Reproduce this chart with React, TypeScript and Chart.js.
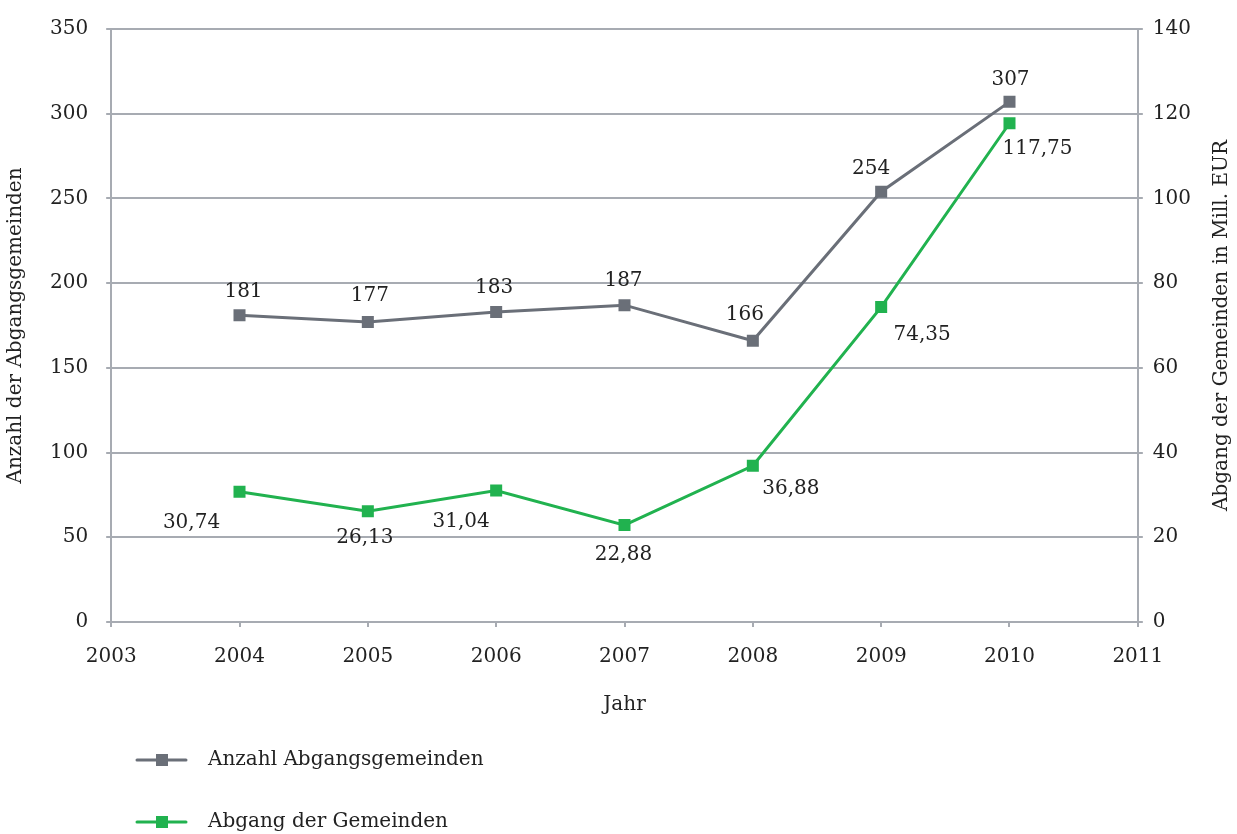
import React, { useEffect, useRef } from "react";
import { Chart, registerables } from "chart.js";

Chart.register(...registerables);

const years = [2004, 2005, 2006, 2007, 2008, 2009, 2010];
const anzahl = [181, 177, 183, 187, 166, 254, 307];
const abgang = [30.74, 26.13, 31.04, 22.88, 36.88, 74.35, 117.75];
const xTicks = [2003, 2004, 2005, 2006, 2007, 2008, 2009, 2010, 2011];
const leftTicks = [0, 50, 100, 150, 200, 250, 300, 350];
const rightTicks = [0, 20, 40, 60, 80, 100, 120, 140];

const GRAY = "#6a6f78";
const GREEN = "#21b24f";
const GRID = "#a7abb2";
const TEXT = "#222222";
const FONT = "'DejaVu Serif', serif";

// label offsets (px) relative to each point
const grayLabelOffsets = [
  [4, -24], [2, -26], [-2, -24], [-1, -24], [-8, -26], [-10, -23], [1, -22],
];
const greenLabelOffsets = [
  [-48, 31], [-3, 26], [-35, 31], [-1, 30], [38, 23], [41, 28], [28, 26],
];

const fmt = (v: number, decimals: boolean) =>
  decimals ? v.toFixed(2).replace(".", ",") : String(v);

const labelPlugin = {
  id: "pointLabels",
  afterDatasetsDraw(chart: any) {
    const ctx = chart.ctx;
    ctx.save();
    ctx.font = `20px ${FONT}`;
    ctx.fillStyle = TEXT;
    ctx.textAlign = "center";
    ctx.textBaseline = "middle";
    chart.data.datasets.forEach((ds: any, di: number) => {
      const meta = chart.getDatasetMeta(di);
      const offs = di === 0 ? grayLabelOffsets : greenLabelOffsets;
      meta.data.forEach((pt: any, i: number) => {
        const v = ds.data[i].y;
        ctx.fillText(fmt(v, di === 1), pt.x + offs[i][0], pt.y + offs[i][1]);
      });
    });
    ctx.restore();
  },
};

const rightTitlePlugin = {
  id: "rightTitle",
  afterDraw(chart: any) {
    const ctx = chart.ctx;
    const area = chart.chartArea;
    ctx.save();
    ctx.translate(1222, (area.top + area.bottom) / 2);
    ctx.rotate(-Math.PI / 2);
    ctx.font = `20px ${FONT}`;
    ctx.fillStyle = TEXT;
    ctx.textAlign = "center";
    ctx.textBaseline = "middle";
    ctx.fillText("Abgang der Gemeinden in Mill. EUR", 0, 0);
    ctx.restore();
  },
};

const legendPlugin = {
  id: "customLegend",
  afterDraw(chart: any) {
    const ctx = chart.ctx;
    const items = [
      { label: "Anzahl Abgangsgemeinden", color: GRAY, y: 760 },
      { label: "Abgang der Gemeinden", color: GREEN, y: 822 },
    ];
    ctx.save();
    items.forEach((it) => {
      ctx.strokeStyle = it.color;
      ctx.lineWidth = 3;
      ctx.lineCap = "round";
      ctx.beginPath();
      ctx.moveTo(137, it.y);
      ctx.lineTo(186, it.y);
      ctx.stroke();
      ctx.fillStyle = it.color;
      ctx.fillRect(156, it.y - 6, 12, 12);
      ctx.fillStyle = TEXT;
      ctx.font = `20px ${FONT}`;
      ctx.textAlign = "left";
      ctx.textBaseline = "middle";
      ctx.fillText(it.label, 208, it.y);
    });
    ctx.restore();
  },
};

export default function App() {
  const ref = useRef<HTMLCanvasElement>(null);
  useEffect(() => {
    document.body.style.margin = "0";
    const tickFont = { family: FONT, size: 20, lineHeight: 1.1 };
    const chart = new Chart(ref.current!, {
      type: "line",
      data: {
        datasets: [
          {
            label: "Anzahl Abgangsgemeinden",
            data: years.map((y, i) => ({ x: y, y: anzahl[i] })),
            borderColor: GRAY,
            backgroundColor: GRAY,
            borderWidth: 3,
            pointStyle: "rect",
            pointRadius: 8.5,
            pointBorderWidth: 0,
            yAxisID: "y",
          },
          {
            label: "Abgang der Gemeinden",
            data: years.map((y, i) => ({ x: y, y: abgang[i] })),
            borderColor: GREEN,
            backgroundColor: GREEN,
            borderWidth: 3,
            pointStyle: "rect",
            pointRadius: 8.5,
            pointBorderWidth: 0,
            yAxisID: "y1",
          },
        ],
      },
      options: {
        animation: false,
        responsive: false,
        layout: { padding: { top: 8, bottom: 113, left: 4, right: 36 } },
        plugins: {
          legend: { display: false },
          tooltip: { enabled: false },
        },
        scales: {
          x: {
            type: "linear",
            min: 2003,
            max: 2011,
            afterBuildTicks: (s: any) => {
              s.ticks = xTicks.map((v) => ({ value: v }));
            },
            ticks: { font: tickFont, color: TEXT, callback: (v: any) => String(v), padding: 19 },
            grid: { drawOnChartArea: false, color: GRID, tickLength: 5, lineWidth: 2 },
            border: { color: GRID, width: 2 },
            title: { display: true, text: "Jahr", font: { family: FONT, size: 20 }, color: TEXT, padding: { top: 6 } },
          },
          y: {
            position: "left",
            min: 0,
            max: 350,
            afterBuildTicks: (s: any) => {
              s.ticks = leftTicks.map((v) => ({ value: v }));
            },
            ticks: { font: tickFont, color: TEXT, padding: 18 },
            grid: { color: GRID, tickLength: 5, lineWidth: 2 },
            border: { color: GRID, width: 2 },
            title: { display: true, text: "Anzahl der Abgangsgemeinden", font: { family: FONT, size: 20 }, color: TEXT, padding: { top: 0, bottom: 4 } },
          },
          y1: {
            position: "right",
            min: 0,
            max: 140,
            afterBuildTicks: (s: any) => {
              s.ticks = rightTicks.map((v) => ({ value: v }));
            },
            ticks: { font: tickFont, color: TEXT, padding: 10 },
            grid: { drawOnChartArea: false, color: GRID, tickLength: 5, lineWidth: 2 },
            border: { color: GRID, width: 2 },
          },
        },
      },
      plugins: [labelPlugin, rightTitlePlugin, legendPlugin],
    } as any);
    return () => chart.destroy();
  }, []);
  return (
    <div style={{ width: 1237, height: 834 }}>
      <canvas ref={ref} width={1237} height={834} style={{ width: 1237, height: 834 }} />
    </div>
  );
}
